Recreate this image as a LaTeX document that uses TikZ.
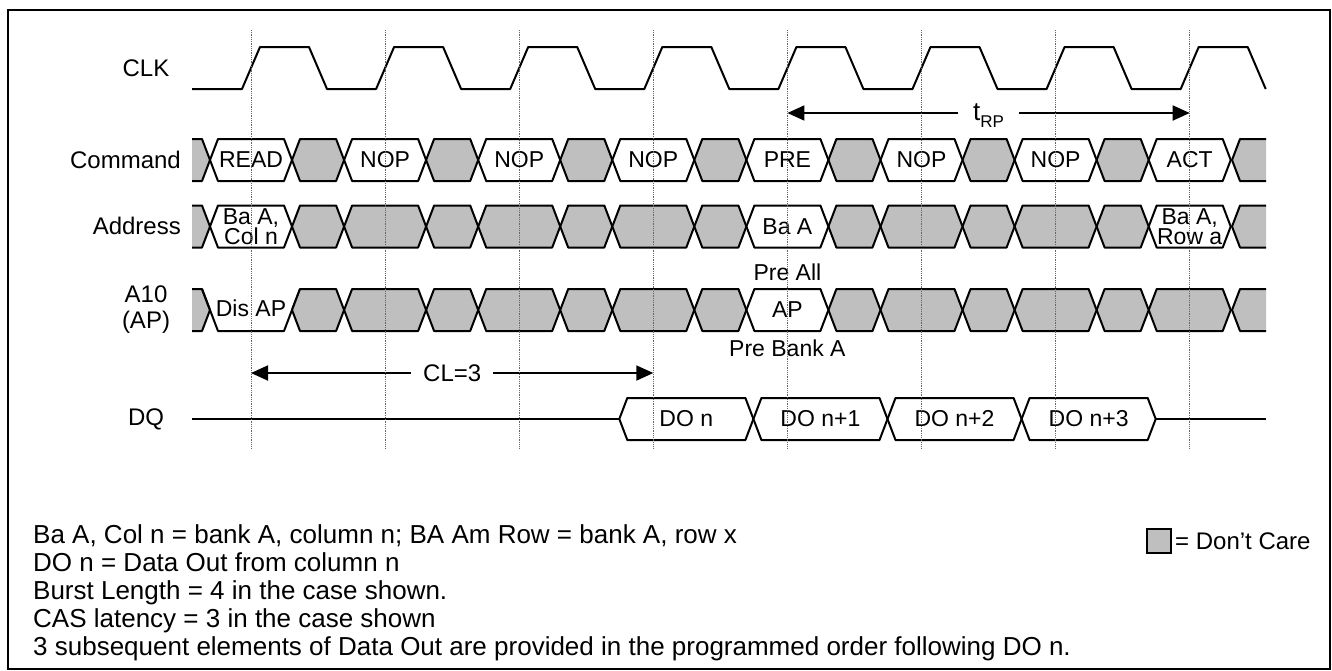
\documentclass[tikz,border=0pt]{standalone}
\usepackage{fontspec}
\setmainfont{Liberation Sans}
\usetikzlibrary{arrows.meta,positioning}
\tikzset{
  wave/.style={line width=2pt, line join=round},
  dcare/.style={wave, fill=black!25},
  valid/.style={wave, fill=white},
  tick/.style={densely dotted, line width=0.8pt, black!60},
  span/.style={line width=1.8pt, -{Triangle[length=17pt,width=15pt]}},
  sig/.style={font=\fontsize{24}{26}\selectfont, align=center, inner sep=0pt},
  cmd/.style={font=\fontsize{23}{23}\selectfont, inner sep=0pt},
  pair/.style={font=\fontsize{23}{16}\selectfont, align=center, inner sep=0pt},
  note/.style={font=\fontsize{26}{28}\selectfont, anchor=base west, inner sep=0pt},
}
% one bus window between two crossings: #1 left, #2 right, #3 row, #4 style
\newcommand{\busseg}[4]{%
  \draw[#4] (#1,#3) -- (#1+8,#3-21) -- (#2-8,#3-21) -- (#2,#3) -- (#2-8,#3+21) -- (#1+8,#3+21) -- cycle;}
% open don't-care ends of a row
\newcommand{\busstart}[1]{%
  \fill[black!25] (192,#1-21) -- (202,#1-21) -- (210,#1) -- (202,#1+21) -- (192,#1+21) -- cycle;
  \draw[wave] (192,#1-21) -- (202,#1-21) -- (210,#1) -- (202,#1+21) -- (192,#1+21);}
\newcommand{\busend}[1]{%
  \fill[black!25] (1266,#1-21) -- (1240,#1-21) -- (1232,#1) -- (1240,#1+21) -- (1266,#1+21) -- cycle;
  \draw[wave] (1266,#1-21) -- (1240,#1-21) -- (1232,#1) -- (1240,#1+21) -- (1266,#1+21);}

\begin{document}
\begin{tikzpicture}[x=1pt,y=-1pt]
  \useasboundingbox (0,0) rectangle (1332,670);
  \draw[line width=1.5pt] (8,10) rectangle (1330,669);

  % signal names
  \node[sig] (clk) at (146,68) {CLK};
  \node[sig, anchor=east] (command) at (181,160) {Command};
  \node[sig, anchor=east] (address) at (181,226) {Address};
  \node[sig] (a10) at (146,310) {A10\\(AP)};
  \node[sig] (dq) at (146,419) {DQ};

  % clock
  \draw[wave] (192,89) \foreach \k in {0,...,7} {
      -- ({251+134.1*\k-9},89) -- ({251+134.1*\k+9},47)
      -- ({318+134.1*\k-9},47) -- ({318+134.1*\k+9},89) };

  % command bus
  \busstart{160}
  \foreach \k in {0,...,6} {
    \pgfmathsetmacro\xc{251+134.1*\k}
    \busseg{\xc+41}{\xc+93.1}{160}{dcare}
  }
  \foreach \k/\txt in {0/READ,1/NOP,2/NOP,3/NOP,4/PRE,5/NOP,6/NOP,7/ACT} {
    \pgfmathsetmacro\xc{251+134.1*\k}
    \busseg{\xc-41}{\xc+41}{160}{valid}
    \node[cmd] (cmd\k) at (\xc,160) {\txt};
  }
  \busend{160}

  % address bus
  \busstart{226.5}
  \foreach \k in {0,...,6} {
    \pgfmathsetmacro\xc{251+134.1*\k}
    \busseg{\xc+41}{\xc+93.1}{226.5}{dcare}
  }
  \foreach \k/\f in {0/valid,1/dcare,2/dcare,3/dcare,4/valid,5/dcare,6/dcare,7/valid} {
    \pgfmathsetmacro\xc{251+134.1*\k}
    \busseg{\xc-41}{\xc+41}{226.5}{\f}
  }
  \busend{226.5}
  \node[pair] (adcol) at (251,226.5) {Ba A,\\Col n};
  \node[cmd] (adpre) at (787.4,226.5) {Ba A};
  \node[pair] (adrow) at (1189.7,226.5) {Ba A,\\Row a};

  % A10 / auto precharge
  \busstart{310}
  \draw[wave] (202,289) -- (218,331) -- (284,331) -- (300,289);
  \foreach \k in {0,...,6} {
    \pgfmathsetmacro\xc{251+134.1*\k}
    \busseg{\xc+41}{\xc+93.1}{310}{dcare}
  }
  \foreach \k/\f in {1/dcare,2/dcare,3/dcare,4/valid,5/dcare,6/dcare,7/dcare} {
    \pgfmathsetmacro\xc{251+134.1*\k}
    \busseg{\xc-41}{\xc+41}{310}{\f}
  }
  \busend{310}
  \node[cmd] (disap) at (251,308) {Dis AP};
  \node[cmd] (ap) at (787.4,310) {AP};
  \node[cmd] (preall) at (787.4,272) {Pre All};
  \node[cmd] (prebank) at (787.4,348) {Pre Bank A};

  % data out
  \coordinate (dqin) at (192,419);
  \coordinate (dqout) at (1266,419);
  \draw[wave] (dqin) -- (619.3,419);
  \foreach \k/\txt in {3/DO n,4/DO n+1,5/DO n+2,6/DO n+3} {
    \pgfmathsetmacro\xa{251+134.1*\k-34}
    \busseg{\xa}{\xa+134.1}{419}{valid}
    \node[cmd] (do\k) at (\xa+67,419) {\txt};
  }
  \draw[wave] (1155.7,419) -- (dqout);

  % timing spans
  \coordinate (trpL) at (787.4,113);
  \coordinate (trpR) at (1189.7,113);
  \node[font=\fontsize{26}{26}\selectfont, inner xsep=15pt, inner ysep=0pt] (trp) at (988.5,116)
    {t\raisebox{-7pt}{\fontsize{17}{17}\selectfont RP}};
  \draw[span] (trpL -| trp.west) -- (trpL);
  \draw[span] (trpR -| trp.east) -- (trpR);

  \coordinate (clL) at (251,373);
  \coordinate (clR) at (653.3,373);
  \node[sig, inner xsep=12pt] (cl) at (452.2,373) {CL=3};
  \draw[span] (cl) -- (clL);
  \draw[span] (cl) -- (clR);

  % clock reference lines
  \foreach \k in {0,...,7}
    \draw[tick] ({251+134.1*\k},30) -- ({251+134.1*\k},448);

  % legend and notes
  \draw[line width=1.2pt, fill=black!25] (1147,529) rectangle (1171,553);
  \node[sig, anchor=west] (legend) at (1175,541) {= Don't Care};
  \node[note] (note1) at (33,543) {Ba A, Col n = bank A, column n; BA Am Row = bank A, row x};
  \node[note] (note2) at (33,571) {DO n = Data Out from column n};
  \node[note] (note3) at (33,599) {Burst Length = 4 in the case shown.};
  \node[note] (note4) at (33,627) {CAS latency = 3 in the case shown};
  \node[note] (note5) at (33,655) {3 subsequent elements of Data Out are provided in the programmed order following DO n.};
\end{tikzpicture}
\end{document}
